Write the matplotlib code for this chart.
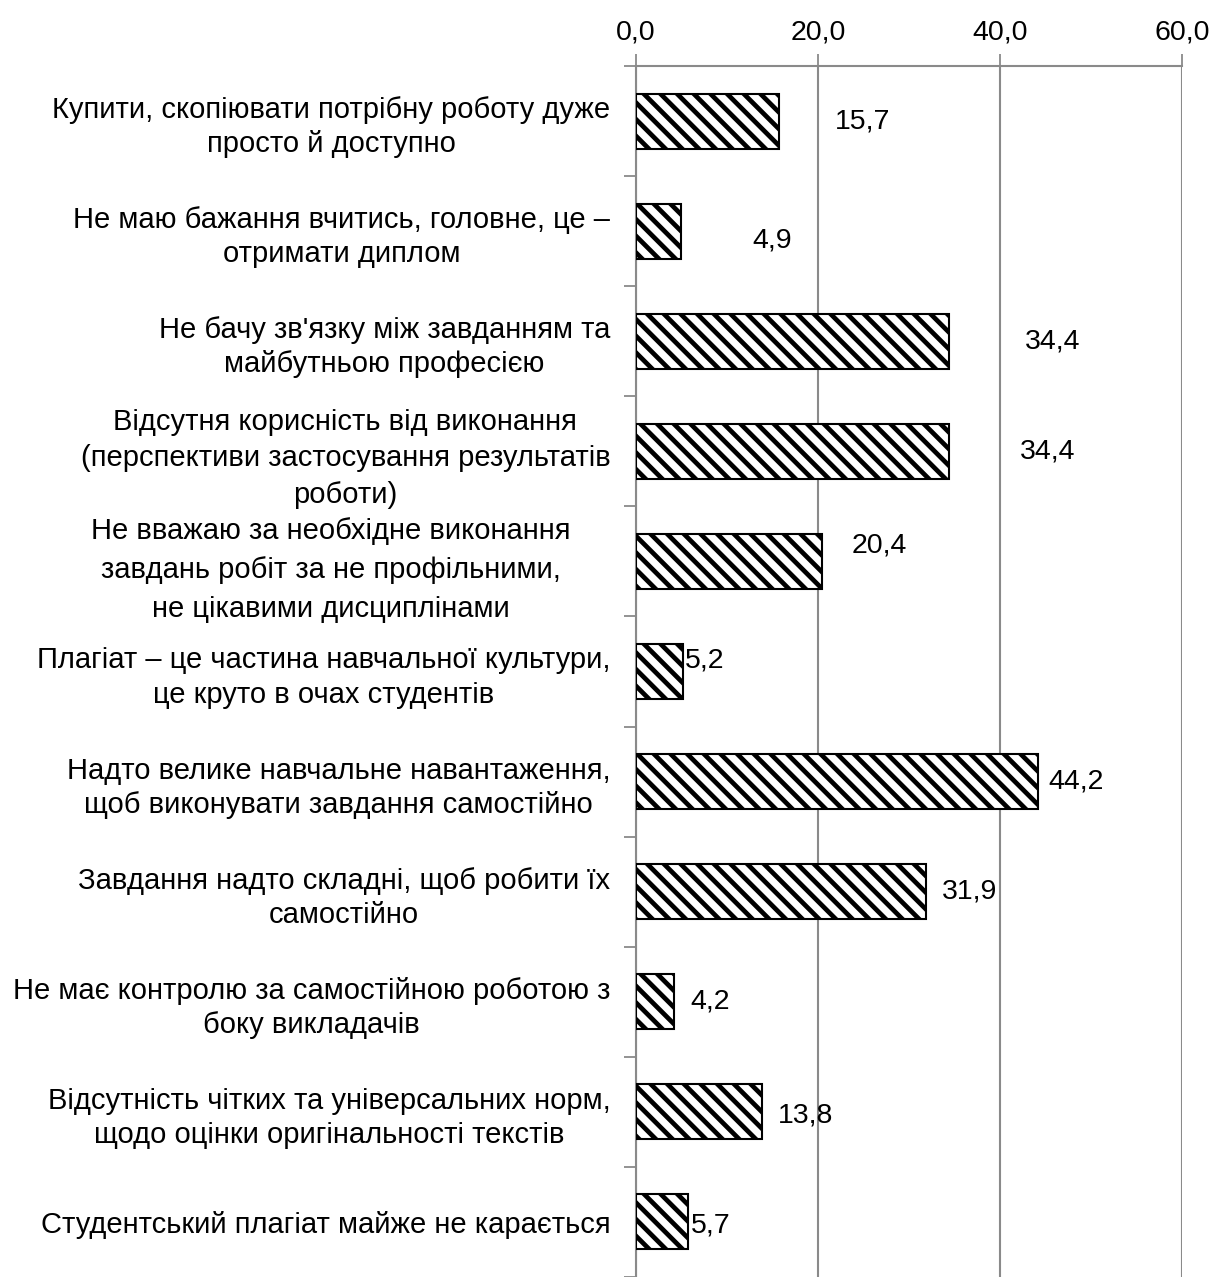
import numpy as np
import matplotlib
matplotlib.use('Agg')
import matplotlib.pyplot as plt
from matplotlib.transforms import ScaledTranslation

plt.rcParams['font.family'] = ['Liberation Sans', 'DejaVu Sans']
plt.rcParams['hatch.linewidth'] = 3.4
plt.rcParams['hatch.color'] = 'black'

categories = [
    'Купити, скопіювати потрібну роботу дуже\nпросто й доступно',
    'Не маю бажання вчитись, головне, це –\nотримати диплом',
    "Не бачу зв'язку між завданням та\nмайбутньою професією",
    'Відсутня корисність від виконання\n(перспективи застосування результатів\nроботи)',
    'Не вважаю за необхідне виконання\nзавдань робіт за не профільними,\nне цікавими дисциплінами',
    'Плагіат – це частина навчальної культури,\nце круто в очах студентів',
    'Надто велике навчальне навантаження,\nщоб виконувати завдання самостійно',
    'Завдання надто складні, щоб робити їх\nсамостійно',
    'Не має контролю за самостійною роботою з\nбоку викладачів',
    'Відсутність чітких та універсальних норм,\nщодо оцінки оригінальності текстів',
    'Студентський плагіат майже не карається',
]
values = [15.7, 4.9, 34.4, 34.4, 20.4, 5.2, 44.2, 31.9, 4.2, 13.8, 5.7]
xticks = [0, 20, 40, 60]

# per-label line spacing and extra left shift (px) of the category text
line_sp = [1.28, 1.28, 1.28, 1.38, 1.5, 1.28, 1.28, 1.28, 1.28, 1.28, 1.28]
cat_shift = [0, 0, 0, 0, 40, 0, 0, 0, 0, 0, 0]
# data-label nudges from the bar end, in pixels (dx right, dy up)
label_dx = [56, 72, 76, 71, 30, 2, 10, 16, 16, 16, 3]
label_dy = [0, -9, 0, 0, 16, 11, 0, 0, 0, -4, -4]

GRID = '#8a8a8a'
FS_CAT = 21
FS_NUM = 20.5

fig = plt.figure(figsize=(12.13, 12.77), dpi=100)
ax = fig.add_axes([636 / 1213, 0.0, 546 / 1213, 1 - 66 / 1277])

y = np.arange(len(values))
ax.barh(y, values, height=0.5, color='white', edgecolor='black',
        linewidth=1.5, hatch='\\\\', zorder=3)

ax.set_xlim(0, 60)
ax.set_ylim(len(values) - 0.5, -0.5)

ax.xaxis.tick_top()
ax.set_xticks(xticks)
ax.set_xticklabels([f'{v:.1f}'.replace('.', ',') for v in xticks], fontsize=FS_NUM)
ax.tick_params(axis='x', direction='out', length=9, width=1.3, color=GRID, pad=6)
ax.grid(axis='x', color=GRID, linewidth=1.5, zorder=0)

ax.set_yticks(y)
ax.set_yticklabels(categories, fontsize=FS_CAT)
ax.set_yticks(np.arange(-0.5, len(values) + 0.5, 1), minor=True)
ax.tick_params(axis='y', which='major', length=0, pad=18.5)
ax.tick_params(axis='y', which='minor', direction='out', length=9, width=1.3, color=GRID)
for t, ls, sh in zip(ax.get_yticklabels(), line_sp, cat_shift):
    t.set_multialignment('center')
    t.set_linespacing(ls)
    if sh:
        t.set_transform(t.get_transform()
                        + ScaledTranslation(-sh / 100, 0, fig.dpi_scale_trans))

for side in ('right', 'bottom'):
    ax.spines[side].set_visible(False)
for side in ('left', 'top'):
    ax.spines[side].set_color(GRID)
    ax.spines[side].set_linewidth(1.5)

for yi, v, dx, dy in zip(y, values, label_dx, label_dy):
    ax.annotate(f'{v:.1f}'.replace('.', ','), xy=(v, yi),
                xytext=(dx * 0.72, dy * 0.72), textcoords='offset points',
                ha='left', va='center', fontsize=FS_NUM, zorder=4)

fig.savefig('out.png', dpi=100)
